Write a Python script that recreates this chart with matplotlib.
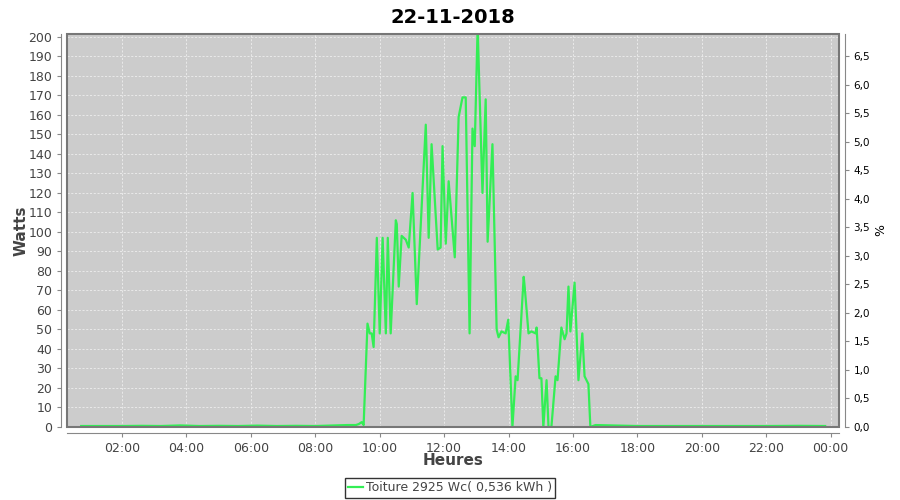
import matplotlib
matplotlib.use("Agg")
import matplotlib.pyplot as plt
from matplotlib.ticker import FuncFormatter, MultipleLocator
from matplotlib.patches import Rectangle

title = "22-11-2018"
series_name = "Toiture 2925 Wc( 0,536 kWh )"
peak_wc = 2925

hours = [0.73, 1.5, 2.0, 2.6, 3.2, 3.8, 4.4, 5.0, 5.6, 6.2, 6.8, 7.4, 8.0, 8.6, 9.0,
         9.26, 9.35, 9.44, 9.50, 9.62, 9.69, 9.75, 9.81, 9.91, 10.00, 10.09, 10.19,
         10.25, 10.34, 10.50, 10.53, 10.59, 10.68, 10.81, 10.90, 11.02, 11.15, 11.43,
         11.52, 11.61, 11.80, 11.89, 11.95, 12.05, 12.14, 12.33, 12.45, 12.57, 12.67,
         12.79, 12.88, 12.95, 13.04, 13.19, 13.29, 13.35, 13.50, 13.63, 13.69, 13.78,
         13.91, 13.99, 14.12, 14.22, 14.28, 14.47, 14.50, 14.62, 14.71, 14.84, 14.87,
         14.96, 15.02, 15.08, 15.18, 15.24, 15.33, 15.46, 15.52, 15.64, 15.74, 15.80,
         15.86, 15.92, 16.05, 16.17, 16.29, 16.36, 16.48, 16.54, 16.7, 17.2, 18.0,
         19.0, 20.0, 21.0, 22.0, 23.0, 23.83]
watts = [0.5, 0.5, 0.5, 0.6, 0.5, 0.8, 0.5, 0.6, 0.5, 0.7, 0.5, 0.6, 0.5, 0.8, 1.0,
         1.0, 1.5, 2.5, 1.0, 53, 48, 48, 41, 97, 48, 97, 48,
         97, 48, 106, 104, 72, 98, 96, 92, 120, 63, 155,
         97, 145, 91, 92, 144, 94, 126, 87, 159, 169, 169,
         48, 153, 144, 205, 120, 168, 95, 145, 50, 46, 49,
         48, 55, 0, 26, 24, 77, 72, 48, 49, 48, 51,
         25, 25, 0, 24, 0, 0, 26, 24, 51, 45, 48,
         72, 49, 74, 24, 48, 26, 22, 0, 1.0, 0.8, 0.5,
         0.5, 0.5, 0.5, 0.5, 0.6, 0.5]

xtick_hours = [2, 4, 6, 8, 10, 12, 14, 16, 18, 20, 22, 24]
xtick_labels = ["02:00", "04:00", "06:00", "08:00", "10:00", "12:00", "14:00",
                "16:00", "18:00", "20:00", "22:00", "00:00"]

plt.rcParams['font.family'] = ['DejaVu Sans']
txt = '#444444'
fig = plt.figure(figsize=(9, 5), dpi=100)
L, R, T, B = 67 / 900, 839 / 900, 34 / 500, 427 / 500
ax = fig.add_axes([L, 1 - B, R - L, B - T])
ax.set_facecolor('#cccccc')
ax.plot(hours, watts, color='#33ee55', lw=1.6, label=series_name, clip_on=True)
ax.set_xlim(0.29, 24.26)
ymax = 201.5
ax.set_ylim(0, ymax)
ax.yaxis.set_major_locator(MultipleLocator(10))
ax.set_xticks(xtick_hours)
ax.set_xticklabels(xtick_labels)
ax.grid(True, color='#eeeeee', linestyle=(0, (2.5, 2)), lw=0.6)
ax.set_axisbelow(True)
for s in ['top', 'right']:
    ax.spines[s].set_visible(False)
for s in ['left', 'bottom']:
    ax.spines[s].set_position(('outward', 4))
    ax.spines[s].set_color('#888888')
ax.add_patch(Rectangle((0, 0), 1, 1, transform=ax.transAxes, fill=False,
                       edgecolor='#777777', lw=1.5, zorder=5, clip_on=False))
ax.tick_params(colors='#888888', labelcolor=txt, labelsize=9, length=3)
ax.set_ylabel("Watts", fontsize=11, fontweight='bold', color=txt, labelpad=0)
ax.set_xlabel("Heures", fontsize=11, fontweight='bold', color=txt, labelpad=-1)
ax.set_title(title, fontsize=14, fontweight='bold', color='black', pad=8)

ax2 = ax.twinx()
ax2.set_ylim(0, ymax / peak_wc * 100)
ax2.yaxis.set_major_locator(MultipleLocator(0.5))
ax2.yaxis.set_major_formatter(FuncFormatter(lambda v, p: f"{v:.1f}".replace('.', ',')))
for s in ['top', 'left', 'bottom']:
    ax2.spines[s].set_visible(False)
ax2.spines['right'].set_position(('outward', 4))
ax2.spines['right'].set_color('#888888')
ax2.tick_params(colors='#888888', labelcolor='black', labelsize=7.5, length=3)
ax2.set_ylabel("%", fontsize=9, color='black', labelpad=3)

handles, labels = ax.get_legend_handles_labels()
leg = fig.legend(handles, labels, loc='center', bbox_to_anchor=(0.5, 1 - 488 / 500),
                 frameon=True, fancybox=False, edgecolor='black', fontsize=9,
                 handlelength=1.2, handletextpad=0.2, borderpad=0.25, borderaxespad=0)
leg.get_frame().set_linewidth(1.0)
for t in leg.get_texts():
    t.set_color(txt)

fig.savefig("out.png", dpi=100)
